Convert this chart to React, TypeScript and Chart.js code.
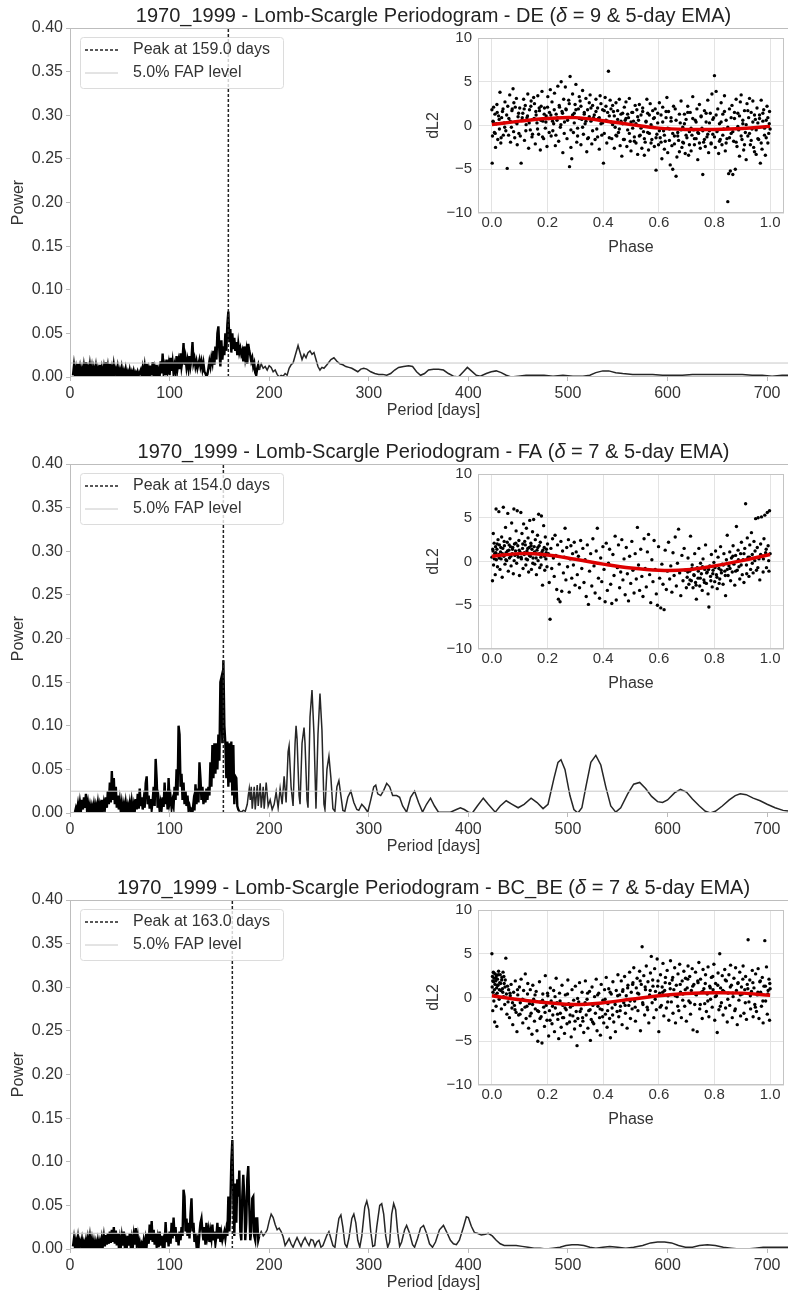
import React, { useEffect, useRef } from 'react';
import { Chart, registerables } from 'chart.js';
Chart.register(...registerables);

const FONT = "'Liberation Sans', Arial, Helvetica, sans-serif";
Chart.defaults.font.family = FONT;

// ---------- labels ----------
const STATIONS = ['DE', 'FA', 'BC_BE'];
const DELTAS = [9, 7, 7];
const PEAK_PERIODS = [159.0, 154.0, 163.0];
const FAP_LEVELS = [0.016, 0.025, 0.018];
const DENSE_LIMITS = [190, 170, 190];
const X_TICK_STEP = 100;
const Y_TICK_STEP = 0.05;
const PHASE_TICK_STEP = 0.2;
const DL2_TICK_STEP = 5;

// ---------- periodograms: [period days, power] ----------
const DE_PGRAM: [number, number][] = [
[3,0.002],[4,0.013],[5,0.003],[6,0.010],[7,0.001],[8,0.015],[9,0.004],[10,0.011],[11,0.002],[12,0.009],[13,0.001],[14,0.012],[15,0.003],[16,0.017],[17,0.004],[18,0.010],[19,0.002],[20,0.013],[21,0.003],[22,0.011],[23,0.001],[24,0.010],[25,0.004],[26,0.012],[27,0.002],[28,0.009],[29,0.003],[30,0.014],[31,0.001],[32,0.010],[33,0.003],[34,0.011],[35,0.002],[36,0.017],[37,0.004],[38,0.012],[39,0.002],[40,0.015],[41,0.003],[42,0.010],[43,0.001],[44,0.013],[45,0.004],[46,0.009],[47,0.002],[48,0.011],[49,0.003],[50,0.008],[51,0.001],[52,0.010],[53,0.002],[54,0.007],[55,0.001],[56,0.009],[57,0.002],[58,0.006],[59,0.001],[60,0.008],[61,0.002],[62,0.006],[63,0.001],[64,0.007],[65,0.002],[66,0.005],[67,0.001],[68,0.006],[69,0.002],[70,0.005],
[71,0.008],[72,0.001],[73,0.010],[74,0.002],[75,0.012],[76,0.001],[77,0.015],[78,0.003],[79,0.009],[80,0.001],[81,0.013],[82,0.002],[83,0.017],[84,0.004],[85,0.010],[86,0.001],[87,0.014],[88,0.003],[89,0.008],[90,0.001],[91,0.018],[92,0.004],[93,0.027],[94,0.006],[95,0.012],[96,0.002],[97,0.020],[98,0.008],[99,0.015],[100,0.002],[101,0.022],[102,0.007],[103,0.017],[104,0.004],[105,0.013],[106,0.006],[107,0.024],[108,0.010],[109,0.018],[110,0.009],[111,0.027],[112,0.012],[113,0.020],[114,0.039],[115,0.014],[116,0.022],[117,0.011],[118,0.019],[119,0.010],[120,0.024],[121,0.013],[122,0.021],[123,0.040],[124,0.016],[125,0.021],[126,0.012],[127,0.018],[128,0.010],[129,0.015],[130,0.020],[131,0.012],[132,0.018],[133,0.009],[134,0.016],[135,0.006],[136,0.004],[137,0.001],[138,0.003],[139,0.010],[140,0.018],[141,0.012],[142,0.022],[143,0.016],[144,0.030],[145,0.014],[146,0.035],[147,0.020],[148,0.050],[149,0.058],[150,0.030],[151,0.012],[152,0.042],[153,0.020],[154,0.035],[155,0.025],[156,0.050],[157,0.030],[158,0.060],[159,0.075],[160,0.040],[161,0.055],[162,0.028],[163,0.050],[164,0.032],[165,0.045],[166,0.030],[167,0.040],[168,0.025],[169,0.038],[170,0.028],[171,0.033],[172,0.026],[173,0.030],[174,0.018],[175,0.035],[176,0.022],[177,0.030],[178,0.015],[179,0.038],[180,0.030],[181,0.025],[182,0.018],[183,0.022],[184,0.012],[185,0.016],[186,0.005],[187,0.002],[188,0.010],[189,0.014],[190,0.008],
[192,0.015],[194,0.010],[196,0.012],[198,0.008],[200,0.013],[202,0.011],[204,0.006],[206,0.008],[208,0.003],[210,0.000],[212,0.002],[214,0.001],[216,0.004],[218,0.002],[220,0.010],[222,0.014],[224,0.016],[226,0.024],[228,0.032],[229,0.036],[231,0.028],[233,0.020],[235,0.026],[237,0.022],[239,0.028],[241,0.030],[243,0.026],[245,0.028],[247,0.020],[249,0.012],[251,0.008],[253,0.011],[255,0.010],[258,0.014],[262,0.020],[265,0.022],[268,0.018],[271,0.015],[274,0.014],[277,0.012],[280,0.011],[283,0.010],[286,0.008],[289,0.006],[292,0.009],[295,0.010],[298,0.009],[302,0.006],[306,0.004],[310,0.003],[314,0.003],[318,0.002],[322,0.004],[326,0.008],[330,0.011],[335,0.012],[340,0.013],[344,0.012],[348,0.006],[352,0.002],[356,0.004],[360,0.008],[365,0.009],[370,0.009],[375,0.008],[380,0.004],[385,0.001],[390,0.000],[395,0.006],[399,0.011],[403,0.007],[408,0.002],[412,0.001],[418,0.004],[423,0.006],[428,0.007],[433,0.005],[438,0.002],[443,0.000],[450,0.001],[458,0.002],[467,0.002],[476,0.002],[485,0.001],[495,0.002],[505,0.001],[515,0.001],[522,0.002],[528,0.005],[535,0.007],[541,0.007],[548,0.005],[555,0.004],[565,0.003],[575,0.003],[585,0.003],[595,0.002],[605,0.002],[615,0.002],[625,0.003],[635,0.003],[645,0.003],[655,0.003],[665,0.003],[675,0.003],[685,0.002],[695,0.002],[705,0.001],[715,0.002],[725,0.002],[730,0.002]
];

const FA_PGRAM: [number, number][] = [
[5,0.001],[6,0.006],[7,0.002],[8,0.010],[9,0.001],[10,0.012],[11,0.003],[12,0.015],[13,0.004],[14,0.018],[15,0.006],[16,0.022],[17,0.005],[18,0.012],[19,0.002],[20,0.009],[21,0.001],[22,0.008],[23,0.002],[24,0.010],[25,0.001],[26,0.009],[27,0.003],[28,0.012],[29,0.002],[30,0.010],[31,0.004],[32,0.015],[33,0.003],[34,0.012],[35,0.005],[36,0.018],[37,0.006],[38,0.025],[39,0.010],[40,0.035],[41,0.012],[42,0.048],[43,0.015],[44,0.040],[45,0.010],[46,0.030],[47,0.006],[48,0.020],[49,0.004],[50,0.014],[51,0.002],[52,0.012],[53,0.003],[54,0.010],[55,0.001],[56,0.012],[57,0.003],[58,0.009],[59,0.002],[60,0.011],[61,0.001],[62,0.013],[63,0.003],[64,0.010],[65,0.002],[66,0.016],[67,0.004],[68,0.022],[69,0.005],[70,0.028],[71,0.008],[72,0.018],[73,0.004],[74,0.015],[75,0.006],[76,0.034],[77,0.042],[78,0.010],[79,0.020],[80,0.005],[81,0.016],[82,0.004],[83,0.014],[84,0.030],[85,0.008],[86,0.062],[87,0.040],[88,0.006],[89,0.015],[90,0.003],[91,0.012],[92,0.005],[93,0.018],[94,0.007],[95,0.035],[96,0.010],[97,0.025],[98,0.004],[99,0.040],[100,0.012],[101,0.018],[102,0.006],[103,0.014],[104,0.008],[105,0.030],[106,0.015],[107,0.050],[108,0.020],[109,0.100],[110,0.090],[111,0.030],[112,0.045],[113,0.015],[114,0.035],[115,0.010],[116,0.025],[117,0.008],[118,0.020],[119,0.004],[120,0.008],[121,0.002],[122,0.004],[123,0.001],[124,0.012],[125,0.003],[126,0.033],[127,0.010],[128,0.028],[129,0.012],[130,0.058],[131,0.040],[132,0.015],[133,0.030],[134,0.010],[135,0.025],[136,0.012],[137,0.028],[138,0.015],[139,0.030],[140,0.020],[141,0.058],[142,0.030],[143,0.078],[144,0.040],[145,0.080],[146,0.045],[147,0.080],[148,0.050],[149,0.090],[150,0.060],[151,0.150],[152,0.155],[153,0.080],[154,0.175],[155,0.100],[156,0.080],[157,0.040],[158,0.082],[159,0.030],[160,0.080],[161,0.035],[162,0.082],[163,0.020],[164,0.078],[165,0.010],[166,0.042],[167,0.040],[168,0.008],[169,0.004],[170,0.002],[172,0.001],[174,0.003],[176,0.002],[178,0.010],[179,0.020],[180,0.028],[181,0.015],[182,0.030],[183,0.005],[185,0.030],[186,0.004],[188,0.032],[189,0.008],[191,0.034],[192,0.006],[194,0.030],[195,0.005],[197,0.035],[199,0.008],[201,0.015],[203,0.004],[205,0.010],[207,0.024],[209,0.006],[211,0.028],[213,0.010],[215,0.042],[217,0.012],[219,0.070],[220,0.077],[222,0.030],[224,0.008],[226,0.080],[227,0.100],[228,0.085],[230,0.020],[231,0.010],[233,0.080],[235,0.098],[236,0.080],[238,0.015],[239,0.006],[241,0.110],[243,0.141],[245,0.090],[247,0.005],[249,0.090],[251,0.137],[253,0.095],[255,0.010],[256,0.004],[258,0.050],[260,0.065],[262,0.040],[264,0.005],[266,0.002],[268,0.030],[270,0.037],[272,0.020],[274,0.003],[276,0.002],[279,0.018],[282,0.025],[285,0.012],[288,0.004],[290,0.003],[293,0.010],[296,0.006],[299,0.001],[302,0.015],[305,0.030],[307,0.032],[309,0.022],[312,0.020],[315,0.026],[318,0.034],[321,0.030],[324,0.020],[328,0.020],[331,0.018],[334,0.008],[338,0.001],[342,0.018],[346,0.025],[350,0.012],[354,0.001],[358,0.010],[362,0.017],[366,0.008],[370,0.001],[376,0.001],[382,0.001],[388,0.004],[392,0.006],[396,0.004],[400,0.001],[404,0.000],[409,0.008],[415,0.017],[420,0.010],[427,0.001],[432,0.008],[438,0.014],[444,0.010],[450,0.006],[456,0.010],[463,0.017],[469,0.012],[475,0.005],[480,0.010],[486,0.040],[490,0.058],[493,0.061],[497,0.050],[502,0.020],[506,0.004],[510,0.000],[514,0.006],[518,0.030],[523,0.058],[528,0.066],[533,0.055],[538,0.030],[543,0.008],[548,0.001],[553,0.006],[560,0.022],[566,0.033],[572,0.035],[578,0.028],[584,0.019],[590,0.013],[595,0.012],[600,0.015],[607,0.023],[613,0.027],[619,0.024],[625,0.016],[632,0.008],[638,0.002],[643,0.000],[648,0.002],[655,0.008],[662,0.015],[668,0.020],[673,0.022],[679,0.021],[686,0.017],[693,0.014],[700,0.010],[708,0.006],[716,0.003],[724,0.002],[730,0.001]
];

const BCBE_PGRAM: [number, number][] = [
[3,0.003],[4,0.012],[5,0.002],[6,0.010],[7,0.004],[8,0.013],[9,0.002],[10,0.009],[11,0.004],[12,0.011],[13,0.002],[14,0.008],[15,0.003],[16,0.010],[17,0.002],[18,0.012],[19,0.004],[20,0.014],[21,0.003],[22,0.011],[23,0.002],[24,0.009],[25,0.001],[26,0.008],[27,0.002],[28,0.010],[29,0.003],[30,0.009],[31,0.002],[32,0.012],[33,0.004],[34,0.014],[35,0.003],[36,0.016],[37,0.005],[38,0.018],[39,0.006],[40,0.020],[41,0.007],[42,0.022],[43,0.008],[44,0.025],[45,0.006],[46,0.021],[47,0.004],[48,0.018],[49,0.003],[50,0.012],[51,0.002],[52,0.014],[53,0.004],[54,0.020],[55,0.003],[56,0.010],[57,0.002],[58,0.015],[59,0.004],[60,0.018],[61,0.003],[62,0.012],[63,0.002],[64,0.015],[65,0.005],[66,0.024],[67,0.006],[68,0.014],[69,0.002],[70,0.008],[71,0.001],[72,0.006],[73,0.002],[74,0.010],[75,0.003],[76,0.012],[77,0.004],[78,0.018],[79,0.006],[80,0.028],[81,0.010],[82,0.032],[83,0.008],[84,0.022],[85,0.005],[86,0.018],[87,0.003],[88,0.012],[89,0.002],[90,0.020],[91,0.004],[92,0.015],[93,0.002],[94,0.010],[95,0.004],[96,0.031],[97,0.008],[98,0.018],[99,0.003],[100,0.020],[101,0.006],[102,0.030],[103,0.012],[104,0.036],[105,0.015],[106,0.025],[107,0.008],[108,0.018],[109,0.004],[110,0.020],[111,0.010],[112,0.025],[113,0.015],[114,0.068],[115,0.060],[116,0.020],[117,0.035],[118,0.015],[119,0.030],[120,0.012],[121,0.040],[122,0.058],[123,0.020],[124,0.030],[125,0.008],[126,0.018],[127,0.004],[128,0.010],[129,0.002],[130,0.018],[131,0.030],[132,0.035],[133,0.020],[134,0.010],[135,0.025],[136,0.005],[137,0.030],[138,0.015],[139,0.022],[140,0.008],[141,0.020],[142,0.012],[143,0.028],[144,0.010],[145,0.020],[146,0.006],[147,0.015],[148,0.030],[149,0.012],[150,0.025],[151,0.008],[152,0.018],[153,0.010],[154,0.015],[155,0.020],[156,0.012],[157,0.022],[158,0.015],[159,0.060],[160,0.020],[161,0.050],[162,0.100],[163,0.125],[164,0.060],[165,0.015],[166,0.075],[167,0.030],[168,0.080],[169,0.060],[170,0.090],[171,0.020],[172,0.010],[173,0.060],[174,0.085],[175,0.060],[176,0.010],[177,0.030],[178,0.080],[179,0.095],[180,0.050],[181,0.010],[182,0.020],[183,0.058],[184,0.060],[185,0.015],[186,0.010],[187,0.035],[188,0.035],[189,0.010],[190,0.015],[192,0.020],[194,0.015],[196,0.018],[198,0.022],[200,0.032],[202,0.040],[204,0.036],[206,0.028],[208,0.022],[210,0.024],[212,0.020],[214,0.014],[216,0.004],[218,0.008],[220,0.012],[222,0.006],[224,0.002],[226,0.008],[228,0.013],[230,0.008],[232,0.003],[234,0.009],[236,0.013],[238,0.008],[240,0.004],[242,0.011],[244,0.010],[246,0.003],[248,0.008],[250,0.010],[252,0.002],[254,0.004],[256,0.010],[258,0.016],[260,0.020],[262,0.012],[264,0.004],[266,0.002],[268,0.020],[270,0.035],[272,0.039],[274,0.025],[276,0.006],[278,0.002],[280,0.012],[283,0.035],[285,0.040],[287,0.030],[289,0.010],[291,0.002],[293,0.015],[296,0.048],[298,0.055],[300,0.045],[302,0.020],[304,0.003],[306,0.004],[308,0.025],[311,0.050],[313,0.052],[315,0.040],[317,0.015],[319,0.002],[321,0.008],[323,0.040],[325,0.052],[327,0.045],[329,0.020],[331,0.003],[333,0.008],[336,0.022],[338,0.027],[341,0.018],[344,0.005],[346,0.002],[349,0.012],[352,0.024],[355,0.027],[358,0.018],[361,0.006],[364,0.002],[367,0.008],[371,0.022],[375,0.027],[378,0.020],[382,0.010],[385,0.006],[388,0.005],[391,0.010],[395,0.025],[398,0.037],[400,0.036],[403,0.026],[406,0.019],[409,0.018],[413,0.016],[417,0.017],[420,0.018],[424,0.015],[428,0.010],[432,0.006],[436,0.004],[442,0.004],[448,0.004],[454,0.003],[460,0.002],[466,0.001],[472,0.001],[478,0.000],[485,0.001],[492,0.002],[498,0.004],[504,0.005],[510,0.005],[516,0.004],[522,0.002],[528,0.001],[535,0.002],[542,0.003],[550,0.002],[558,0.001],[566,0.002],[575,0.004],[583,0.007],[590,0.008],[597,0.008],[604,0.007],[611,0.004],[618,0.002],[625,0.002],[632,0.004],[640,0.005],[648,0.004],[656,0.002],[664,0.001],[672,0.000],[680,0.000],[688,0.001],[696,0.002],[704,0.002],[712,0.002],[720,0.002],[730,0.002]
];

// ---------- phase-folded points: [phase, dL2] ----------
const DE_POINTS: [number, number][] = [
[0,1.8],[.002,-1.2],[.004,.5],[.001,-4.3],[.006,2.1],[.009,-.8],[.011,1.3],[.013,-2.5],[.016,.2],[.018,2.4],[.021,-1.6],[.024,1.1],[.027,-.4],[.029,3.8],[.032,-2],[.035,.9],[.038,1.6],[.041,-1.1],[.044,.3],[.047,2.7],[.05,-.6],[.055,-4.9],[.057,2.2],[.061,.8],[.064,3.5],[.067,-1.9],[.07,-.2],[.073,1.9],[.076,4.2],[.079,2.6],[.082,-1.4],[.085,.4],[.088,3.1],[.091,-2.2],[.094,1],[.097,-.9],[.1,2],[.105,-4.3],[.108,.6],[.111,1.4],[.114,3],[.117,-1.7],[.12,2.3],[.123,.1],[.126,.9],[.129,3.6],[.132,-2.6],[.135,1.8],[.138,-.5],[.141,2.8],[.144,-1.3],[.147,.7],[.15,3.2],[.153,2.5],[.156,-2.1],[.159,1.2],[.162,.3],[.165,3.4],[.168,-1],[.171,1.7],[.174,-2.8],[.177,2.2],[.18,3.9],[.183,.5],[.186,-1.5],[.189,2],[.192,-.3],[.195,1.1],[.198,-2.4],[.201,3.3],[.204,.8],[.207,1.5],[.21,4.1],[.213,-1.2],[.216,2.7],[.219,-.6],[.222,.2],[.225,3.7],[.228,-2.3],[.231,1.3],[.234,.6],[.237,4.5],[.24,-1.8],[.243,2.1],[.246,-.2],[.249,5],[.252,1.6],[.255,-3.1],[.258,3],[.261,.4],[.264,4.4],[.267,1.8],[.27,-1.5],[.273,.9],[.276,2.9],[.279,-4.7],[.281,5.6],[.284,-2.5],[.287,-3.8],[.29,3.6],[.293,-.8],[.296,1.4],[.299,2.4],[.302,4.7],[.305,-1.9],[.308,-.3],[.311,1.9],[.314,3.3],[.317,2.8],[.32,-2.2],[.323,.7],[.326,4],[.329,-1],[.332,1.5],[.335,.2],[.338,3.1],[.341,-3],[.344,1.8],[.347,-1.4],[.35,2.6],[.353,3.5],[.356,.5],[.359,-2.1],[.362,2.3],[.365,.9],[.368,1.2],[.371,-1.6],[.374,3],[.377,-.4],[.38,2],[.383,.8],[.386,-2.7],[.389,3.4],[.392,2.5],[.395,-1.1],[.398,.3],[.401,-4.3],[.404,1.7],[.407,3.2],[.41,2.2],[.413,-2],[.416,.5],[.419,6.2],[.422,1.1],[.425,2.9],[.428,.4],[.431,-1.5],[.434,2.3],[.437,1.6],[.44,-2.6],[.443,-.2],[.446,2.6],[.449,-1.2],[.452,.7],[.455,-.8],[.458,3],[.461,-2.3],[.464,1.3],[.467,-3.5],[.47,.2],[.473,-1.6],[.476,2.1],[.479,.6],[.482,2.7],[.485,-2.4],[.488,-.5],[.491,.9],[.494,3.1],[.497,-1.8],[.5,-2.9],[.503,1.5],[.506,-.3],[.509,.5],[.512,-1.3],[.515,2.3],[.518,-2],[.521,1.8],[.524,-3.3],[.527,.6],[.53,2.4],[.533,-1.1],[.536,1.2],[.539,-2.6],[.542,2],[.545,-.7],[.548,-3.4],[.551,-1.9],[.554,.4],[.557,3],[.56,1.4],[.563,-2.8],[.566,-.9],[.569,2.5],[.572,.1],[.575,-1.6],[.578,1.7],[.581,.8],[.584,-2.4],[.587,1.9],[.59,-5.1],[.593,-1],[.596,.3],[.599,-2.2],[.602,2.6],[.605,-1.4],[.608,1.2],[.611,-3.8],[.614,2.1],[.617,-.6],[.62,-2.7],[.623,-1.8],[.626,.9],[.629,3.2],[.632,-3.1],[.635,1.6],[.638,-.4],[.641,-4.5],[.644,.5],[.647,-2.3],[.65,-5],[.653,2.2],[.656,-1.2],[.659,1.9],[.662,-5.8],[.665,-3.6],[.668,-.8],[.671,-1.7],[.674,-3],[.677,.3],[.68,2.8],[.683,-2.5],[.686,-.2],[.689,-2],[.692,1.3],[.695,-3.2],[.698,.7],[.701,-1.4],[.704,2.2],[.707,-3.4],[.71,-.7],[.713,1.5],[.716,-2.9],[.719,-1.1],[.722,3.3],[.725,-.5],[.728,-2.2],[.731,.6],[.734,-1.5],[.737,1.9],[.74,-3.9],[.743,-.9],[.746,2.4],[.749,-2.6],[.752,1.1],[.755,-.3],[.758,-5.6],[.761,-1.9],[.764,1.7],[.767,-2.4],[.77,.4],[.773,-1.3],[.776,2.9],[.779,-3.1],[.782,-.6],[.785,1.4],[.788,-2],[.791,3.6],[.794,-1],[.797,.9],[.8,5.7],[.803,-2.5],[.806,3.9],[.809,-.7],[.812,1.9],[.815,-3.2],[.818,.2],[.821,-1.6],[.824,2.6],[.827,-2.2],[.83,1.3],[.833,-.4],[.836,3.4],[.839,-2.9],[.842,.6],[.845,-1.5],[.848,-8.7],[.851,-5.5],[.854,1.9],[.857,-5.2],[.86,-.9],[.863,2.3],[.866,-5.6],[.869,-1.8],[.872,.8],[.875,-5],[.878,3],[.881,-2.4],[.884,1.4],[.887,-.5],[.89,-3.5],[.893,2.7],[.896,3.5],[.899,-1.6],[.902,.2],[.905,-2.8],[.908,1.7],[.911,-.8],[.914,-3.9],[.917,2.5],[.92,-1.2],[.923,.9],[.926,3.1],[.929,-2.2],[.932,1.5],[.935,-.4],[.938,2.8],[.941,-2.5],[.944,-3],[.947,.7],[.95,-3.3],[.953,2],[.956,.3],[.959,-1.6],[.962,1.2],[.965,-4.3],[.968,2.9],[.971,-2.7],[.974,.5],[.977,1.8],[.98,-1.1],[.983,-3.4],[.986,.6],[.989,2.2],[.992,-2],[.995,-.9],[.998,1.6],[1,-.4]
];
const DE_POINTS_CORE: [number, number][] = [
[.005,.4],[.012,-.9],[.019,1.5],[.026,.7],[.033,-1.4],[.04,1.9],[.046,-.2],[.053,1.2],[.06,-1.1],[.066,.5],[.072,1.7],[.078,-.7],[.084,2.1],[.09,.2],[.096,1.4],[.102,-1.2],[.109,.9],[.116,1.9],[.122,-.6],[.128,1.1],[.134,.3],[.14,2.2],[.146,-1],[.152,.8],[.158,1.6],[.164,-.4],[.17,2],[.176,.6],[.182,-1.3],[.188,1.3],[.194,.4],[.2,2.1],[.206,-.8],[.212,1.2],[.218,.5],[.224,1.8],[.23,-1.1],[.236,.9],[.242,2.3],[.248,.1],[.254,1.4],[.26,-.9],[.266,1.9],[.272,.6],[.278,2.5],[.284,-.5],[.29,1.2],[.296,.3],[.302,1.8],[.308,-1.2],[.314,.8],[.32,2.2],[.326,-.2],[.332,1.3],[.338,.5],[.344,-1.5],[.35,1],[.356,2],[.362,-.6],[.368,.7],[.374,1.6],[.38,-1.3],[.386,.9],[.392,.2],[.398,1.8],[.404,-.9],[.41,.6],[.416,1.5],[.422,-1.4],[.428,1.9],[.434,.1],[.44,1.1],[.446,-1.1],[.452,1.7],[.458,-.4],[.464,.5],[.47,1.4],[.476,-1.6],[.482,.8],[.488,1.3],[.494,-.9],[.5,.4],[.506,1.5],[.512,-1.8],[.518,.2],[.524,1],[.53,-1.2],[.536,-.3],[.542,1.6],[.548,-1.5],[.554,.5],[.56,-.8],[.566,1.2],[.572,-2],[.578,-.2],[.584,.9],[.59,-1.4],[.596,1.4],[.602,-.6],[.608,-1.9],[.614,.4],[.62,-1.1],[.626,1.6],[.632,-.3],[.638,-1.7],[.644,.9],[.65,-.9],[.656,-2.1],[.662,.6],[.668,-1.2],[.674,1.3],[.68,-.5],[.686,-1.9],[.692,.2],[.698,-1.1],[.704,1.5],[.71,-2.2],[.716,-.3],[.722,.8],[.728,-1.5],[.734,.4],[.74,-.8],[.746,-2],[.752,1],[.758,-.6],[.764,-1.6],[.77,1.4],[.776,-1],[.782,.3],[.788,-2.1],[.794,.7],[.8,-1.3],[.806,1.2],[.812,-.5],[.818,-1.8],[.824,.4],[.83,-1.1],[.836,1.6],[.842,-2],[.848,-.2],[.854,-1.4],[.86,.9],[.866,-.7],[.872,1.5],[.878,-1.9],[.884,-.1],[.89,1.1],[.896,-1.2],[.902,.6],[.908,-2.2],[.914,.1],[.92,1.7],[.926,-.9],[.932,-1.7],[.938,.4],[.944,1.2],[.95,-.5],[.956,-1.5],[.962,.8],[.968,-2],[.974,1.4],[.98,-.3],[.986,-1.4],[.992,.9],[.997,.2]
];

const FA_POINTS: [number, number][] = [
[0,.5],[.002,-2.2],[.004,1.2],[.005,3.2],[.006,-.4],[.008,2.1],[.01,.9],[.012,-1.5],[.013,1.7],[.015,6],[.016,.2],[.018,1.4],[.02,-.6],[.022,2.5],[.024,.8],[.025,5.7],[.027,1.9],[.029,-.9],[.031,1.1],[.033,.3],[.035,2.8],[.037,-1.8],[.039,1.5],[.041,6.2],[.043,.6],[.045,1.8],[.047,-.3],[.049,3.9],[.051,1],[.053,.1],[.055,2.2],[.057,5.5],[.059,-1.1],[.061,1.3],[.063,.4],[.065,2.6],[.067,1.7],[.069,-.5],[.071,4.4],[.073,.9],[.075,1.6],[.077,-1.4],[.079,6],[.081,2],[.083,.7],[.085,1.2],[.087,3.5],[.089,-.2],[.091,5.8],[.093,1.8],[.095,.5],[.097,2.4],[.099,-1.6],[.101,1.1],[.104,5.6],[.106,.3],[.108,3.2],[.11,1.5],[.112,-.8],[.114,4.3],[.116,.8],[.118,2.3],[.12,1.9],[.122,-.4],[.124,3.8],[.126,1.2],[.128,.2],[.13,2.7],[.132,-1.2],[.134,1.6],[.136,4.7],[.138,.6],[.14,2.1],[.142,-.9],[.144,1.4],[.146,3.4],[.148,.4],[.15,4.8],[.152,1.7],[.154,-.3],[.156,2.5],[.158,.9],[.16,-1.5],[.162,1.3],[.164,3],[.166,.1],[.168,5.4],[.17,1.8],[.172,-.7],[.174,2.2],[.176,.5],[.178,5.2],[.18,1.1],[.182,-2.7],[.184,.8],[.186,4.1],[.188,1.6],[.19,-1],[.192,2.8],[.194,.3],[.196,1.4],[.198,-.6],[.2,2],
[.203,.9],[.206,-2.4],[.209,-6.6],[.212,1.5],[.215,-.8],[.218,2.6],[.221,.4],[.224,-1.7],[.227,3],[.23,.7],[.233,-3.2],[.236,1.9],[.239,-4.3],[.242,-.3],[.245,-4.6],[.248,2.3],[.251,-3.4],[.254,1.2],[.257,-1.3],[.26,.5],[.263,3.8],[.266,-2.1],[.269,1.6],[.272,-.6],[.275,2.5],[.278,-3.5],[.281,.3],[.284,1.8],[.287,-1.9],[.29,.9],[.293,-.4],[.296,2.2],[.299,-2.7],
[.303,1.1],[.307,-1.5],[.311,.6],[.315,-3],[.319,2.4],[.323,-.8],[.327,1.5],[.331,-2.4],[.335,.2],[.339,-4],[.343,1.9],[.347,-4.9],[.351,-1.1],[.355,.9],[.359,-2.8],[.363,2.6],[.367,-.5],[.371,-3.6],[.375,1.2],[.379,3.8],[.383,-1.9],[.387,-4.2],[.391,.4],[.395,-2.3],[.399,1.7],[.403,-.9],[.407,-4.6],[.411,2.1],[.415,-3.3],[.419,-.2],[.423,1.4],[.427,-2.6],[.431,-4.8],[.435,.8],[.439,-1.6],[.443,2.9],[.447,-4.4],[.451,-.7],[.455,1.9],[.459,-3],[.463,-1.2],[.467,2.5],[.471,-2.1],[.475,.3],[.479,-3.8],[.483,1.6],[.487,-1.4],[.491,-4.5],[.495,.6],[.499,-2.5],
[.503,2.3],[.507,-1],[.511,-3.6],[.515,.9],[.519,-2],[.523,3.9],[.527,-.4],[.531,-3.3],[.535,1.4],[.539,-1.7],[.543,-4],[.547,2.6],[.551,-.8],[.555,-2.9],[.559,1.1],[.563,3.1],[.567,-1.5],[.571,-4.7],[.575,.2],[.579,-2.3],[.583,2.4],[.587,-.9],[.591,-3.7],[.595,-5],[.599,1.7],[.603,-1.9],[.607,-5.3],[.611,-.3],[.615,-2.6],[.619,-5.5],[.623,1.3],[.627,-3.2],[.631,-1.1],[.635,2.2],[.639,-2],[.643,-.5],[.647,-3.5],[.651,1],[.655,-1.6],[.659,2.8],[.663,-2.8],[.667,-.2],[.671,3.7],[.675,-1.3],[.679,-3.9],[.683,.7],[.687,-2.2],[.691,1.5],[.695,-1],[.699,-3],
[.702,-1.8],[.705,.4],[.708,-2.6],[.711,-1.1],[.714,2.9],[.717,-2.2],[.72,-.4],[.723,-3],[.726,-1.5],[.729,.9],[.732,-2.4],[.735,-4.3],[.738,-.7],[.741,-1.9],[.744,1.5],[.747,-2.8],[.75,-.2],[.753,-1.4],[.756,-3.3],[.759,.3],[.762,-2.1],[.765,-.9],[.768,1.9],[.771,-2.5],[.774,-1.2],[.777,-3.7],[.78,-5.2],[.783,-.5],[.786,-1.7],[.789,.8],[.792,-2.9],[.795,-1],[.798,-.1],[.801,-2.3],[.804,1.2],[.807,-1.5],[.81,-3.1],[.813,.5],[.816,-.8],[.819,-2],[.822,1.7],[.825,-1.3],[.828,-.3],[.831,-2.6],[.834,.9],[.837,-1.1],[.84,-3.9],[.843,.2],[.846,3],[.849,-1.6],
[.852,-.5],[.855,1.1],[.858,-2.2],[.861,.4],[.864,-1.2],[.867,1.8],[.87,-.3],[.873,-2.7],[.876,.7],[.879,4],[.882,-1],[.885,1.3],[.888,-.6],[.891,-2],[.894,.9],[.897,2.2],[.9,-1.5],[.903,.2],[.906,-2.4],[.909,1.5],[.912,6.6],[.915,-.4],[.918,2.7],[.921,.5],[.924,-1.7],[.927,1.9],[.93,-.9],[.933,3.3],[.936,.8],[.939,-1.3],[.942,2.3],[.945,.1],[.948,4.9],[.951,-1],[.954,1.6],[.957,5],[.96,.3],[.963,-2.1],[.966,2],[.969,5.1],[.972,.6],[.975,-1.2],[.978,2.6],[.981,5.3],[.984,1],[.987,-.7],[.99,5.6],[.993,1.8],[.996,-1.1],[.998,5.8],[1,.9]
];
const FA_POINTS_CORE: [number, number][] = [
[.003,1.4],[.009,.3],[.014,1],[.019,2],[.026,.4],[.032,1.6],[.038,.9],[.044,2.3],[.05,.2],[.056,1.2],[.062,1.9],[.068,.6],[.074,1.4],[.08,.1],[.086,2.1],[.092,.8],[.098,1.3],[.105,.5],[.111,2],[.117,1],[.123,.3],[.129,1.5],[.135,.7],[.141,1.8],[.147,-.2],[.153,1.1],[.159,.4],[.165,1.6],[.171,.9],[.177,-.4],[.183,1.3],[.189,.6],[.195,1],
[.704,-1.2],[.712,-2.1],[.719,-.8],[.727,-1.6],[.734,-2.7],[.742,-1.1],[.749,-1.9],[.757,-.6],[.764,-2.4],[.772,-1.3],[.779,-.9],[.787,-2.2],[.794,-1.4],[.802,-.7],[.809,-1.8],[.817,-2.5],[.824,-1],[.832,-.4],[.839,-1.6],[.846,-.9],
[.856,-.8],[.866,.6],[.876,-1.1],[.886,.2],[.896,-.4],[.906,.9],[.916,-1.4],[.926,.5],[.936,-.2],[.946,1.2],[.956,-.7],[.966,.8],[.976,.3],[.986,1.4],[.995,.1]
];

const BCBE_POINTS: [number, number][] = [
[0,5],[.001,1.2],[.002,2.4],[.003,-1.5],[.004,.6],[.005,2.9],[.006,1.8],[.007,-.4],[.008,2.2],[.009,.9],[.01,-2.8],[.011,1.5],[.012,2.7],[.013,.3],[.014,1.9],[.015,-1],[.016,2.5],[.017,1.1],[.018,-3.3],[.019,.5],[.02,2.1],[.022,1.4],[.024,3],[.026,-.2],[.028,1.7],[.03,2.6],[.032,.8],[.034,-1.3],[.036,2.3],[.038,1],[.04,2.9],[.042,.1],[.044,1.6],[.046,-.8],[.048,2],[.05,4.5],[.052,.4],[.054,-1.9],[.056,1.3],[.058,-.5],[.06,.9],
[.063,-2.3],[.066,.2],[.069,1.5],[.072,-1.2],[.075,-3.1],[.078,.6],[.081,-.9],[.084,1.9],[.087,-1.7],[.09,-3.9],[.093,.3],[.096,-2],[.099,1.2],[.102,-.6],[.105,2.1],[.108,-1.4],[.111,-2.9],[.114,.8],[.117,-.3],[.12,2.7],[.123,-2.4],[.126,-1],[.129,1.6],[.132,-3.5],[.135,-.7],[.138,.9],[.141,-1.8],[.144,-4.2],[.147,1.4],[.15,-.2],[.153,-2.7],[.156,-1.3],[.159,.7],[.162,-3.8],[.165,-5],[.168,-1.6],[.171,1.8],[.174,-.5],[.177,-2.2],[.18,-5.2],[.183,.4],[.186,-1.1],[.189,-3.3],[.192,2.5],[.195,-.9],[.198,-2.6],[.201,.2],[.204,-4.4],[.207,-1.5],[.21,1.1],[.213,-.4],[.216,-3],[.219,-2],[.222,.8],[.225,-3.9],[.228,-1.2],[.231,2.2],[.234,-.6],[.237,-2.5],[.24,-4.7],[.243,.5],[.246,-1.8],[.249,-3.4],[.252,1.4],[.255,-.9],[.258,-2.3],[.261,-4.1],[.264,.3],[.267,-1.4],[.27,-3],[.273,2],[.276,-.7],[.279,-2.8],[.282,-1.1],[.285,-4.5],[.288,.9],[.291,-2.1],[.294,-.3],[.297,-3.6],[.3,1.3],[.303,-1.6],[.306,-5.5],[.309,-2.4],[.312,-.5],[.315,1.7],[.318,-3.2],[.321,-1.3],[.324,.6],[.327,-2.7],[.33,-4],[.333,-.8],[.336,1.9],[.339,-2],[.342,-.2],[.345,-3.5],[.348,-1.5],[.351,.7],[.354,-4.9],[.357,-2.5],[.36,1.2],[.363,-.9],[.366,-3],[.369,.1],[.372,-1.8],[.375,2.1],[.378,-3.8],[.381,-1],[.384,.5],[.387,-2.3],[.39,-4.3],[.393,1.5],[.396,-1.4],[.399,-.3],[.402,-2.9],[.405,.9],[.408,-1.9],[.411,2.3],[.414,-3.4],[.417,-.7],[.42,1],[.423,-2.4],[.426,-4.6],[.429,.4],[.432,-1.2],[.435,1.8],[.438,-2.8],[.441,-.5],[.444,-3.9],[.447,.8],[.45,-1.6],
[.453,2.6],[.456,-2.2],[.459,.3],[.462,-1],[.465,1.9],[.468,-3.1],[.471,.9],[.474,-.6],[.477,2.4],[.48,-1.8],[.483,.2],[.486,-3.5],[.489,1.4],[.492,-.9],[.495,2.9],[.498,-2.4],[.501,.6],[.504,-1.3],[.507,1.7],[.51,3.4],[.513,-.4],[.516,-2.7],[.519,1.1],[.522,2.2],[.525,-1.5],[.528,.4],[.531,3],[.534,-3.8],[.537,1.5],[.54,5.8],[.543,-.8],[.546,2.5],[.549,-2],[.552,.9],[.555,3.6],[.558,-1.1],[.561,1.8],[.564,-2.9],[.567,.3],[.57,2.8],[.573,4.7],[.576,-.6],[.579,1.3],[.582,-2.3],[.585,3.3],[.588,.7],[.591,-1.4],[.594,4.4],[.597,1.9],[.6,-3.9],[.603,.5],[.606,2.6],[.609,-.9],[.612,1.2],[.615,3.9],[.618,-2.1],[.621,.8],[.624,2.3],[.627,-1.2],[.63,3.1],[.633,.2],[.636,-2.6],[.639,1.6],[.642,4.2],[.645,-.5],[.648,2],[.651,-1.8],[.654,.9],[.657,3.4],[.66,-2.9],[.663,1.4],[.666,.1],[.669,2.7],[.672,-1.5],[.675,3.8],[.678,.6],[.681,-2.3],[.684,1.9],[.687,.4],[.69,3],[.693,-1],[.696,2.2],[.699,-2.7],[.702,1.1],[.705,3.6],[.708,-.4],[.711,2.4],[.714,-1.9],[.717,.8],[.72,3.3],[.723,-3.7],[.726,1.5],[.729,-.8],[.732,2.9],[.735,.3],[.738,-3.9],[.741,1.7],[.744,4],[.747,-1.3],[.75,2.1],[.753,.6],[.756,-2.4],[.759,3.2],[.762,1],[.765,-.7],[.768,2.6],[.771,-1.6],[.774,.4],[.777,3.5],[.78,-2.2],[.783,1.3],[.786,-.2],[.789,2.3],[.792,-1.1],[.795,.9],[.798,3.8],[.801,-2.6],[.804,1.6],[.807,.2],[.81,-4],[.813,2.8],[.816,-1.4],[.819,5],[.822,1.1],[.825,-.6],[.828,2.5],[.831,-2],[.834,.7],[.837,3.2],[.84,-1.2],[.843,1.9],[.846,-2.8],[.849,.5],[.852,2.6],[.855,-.9],[.858,3.7],[.861,1.4],[.864,-2.3],[.867,.1],[.87,2.2],[.873,-1.5],[.876,3.4],[.879,.8],[.882,-3.1],[.885,1.7],[.888,-.3],[.891,2.9],[.894,-2.1],[.897,1.2],[.9,.4],[.903,3.6],[.906,-1.8],[.909,.9],[.912,2.4],[.915,-2.5],[.918,1.5],[.921,6.6],[.924,-.5],[.927,2],[.93,-1.3],[.933,.7],[.936,3.1],[.939,-2.2],[.942,1.1],[.945,-.8],[.948,2.7],[.951,-1.6],[.954,.3],[.957,3.3],[.96,-2.4],[.963,1.8],[.966,.6],[.969,-1],[.972,2.3],[.975,-2.9],[.978,1.3],[.981,6.5],[.984,-.4],[.987,3.5],[.99,-1.9],[.993,.8],[.996,2.1],[.998,-2.6],[1,1]
];
const BCBE_POINTS_CORE: [number, number][] = [
[.003,1.9],[.007,2.8],[.011,.2],[.015,2.2],[.019,1.4],[.023,2.6],[.027,.9],[.031,1.6],[.035,2],[.039,.6],[.043,2.4],[.047,1.2],
[.065,.5],[.074,-.6],[.083,-1.4],[.092,.9],[.101,-1.9],[.11,-.2],[.119,-1.1],[.128,.4],[.137,-2.1],[.146,-.8],[.155,.3],[.164,-1.5],[.173,-2.4],[.182,-.3],[.191,-1.7],[.2,.5],[.209,-2.6],[.218,-1],[.227,.1],[.236,-1.9],[.245,-.4],[.254,-2.3],[.263,-1.2],[.272,.4],[.281,-2],[.29,-.9],[.299,-2.7],[.308,-.1],[.317,-1.6],[.326,-2.3],[.335,-.6],[.344,.5],[.353,-1.4],[.362,-2.8],[.371,-.7],[.38,.3],[.389,-1.3],[.398,-2.2],[.407,-.2],[.416,-1.5],[.425,.6],[.434,-2],[.443,-.8],[.452,.2],[.461,-1.5],[.47,.7],[.479,-.9],[.488,1.1],[.497,-.4],[.506,1.5],[.515,-1.1],[.524,.5],[.533,1.9],[.542,-.6],[.551,1.2],[.56,-1.4],[.569,.8],[.578,2],[.587,-.2],[.596,1.3],[.605,-1.1],[.614,.6],[.623,1.7],[.632,-.5],[.641,1],[.65,2.3],[.659,.2],[.668,-1],[.677,1.5],[.686,-.3],[.695,.9],[.704,2.1],[.713,-.6],[.722,1.3],[.731,.4],[.74,1.9],[.749,-.8],[.758,.7],[.767,1.6],[.776,-.4],[.785,1.1],[.794,2.4],[.803,.1],[.812,1.4],[.821,-1],[.83,.8],[.839,2],[.848,-.2],[.857,1.2],[.866,.5],[.875,-1.3],[.884,1.6],[.893,.3],[.902,2.1],[.911,-.6],[.92,1],[.929,.2],[.938,1.7],[.947,-1.1],[.956,.6],[.965,1.9],[.974,-.4],[.983,1.3],[.992,.4],[.999,1.6]
];

// ---------- fitted sinusoid (red) ----------
const FIT_PHASE = [0, 0.1, 0.2, 0.3, 0.4, 0.5, 0.6, 0.7, 0.8, 0.9, 1.0];
const DE_FIT = [0.1, 0.5, 0.8, 0.9, 0.55, 0.1, -0.3, -0.45, -0.45, -0.35, -0.1];
const FA_FIT = [0.6, 0.9, 0.75, 0.25, -0.3, -0.75, -1.0, -0.95, -0.5, 0.1, 0.8];
const BCBE_FIT = [0.2, -0.25, -0.6, -0.8, -0.6, -0.2, 0.2, 0.45, 0.55, 0.5, 0.25];

const PGRAMS = [DE_PGRAM, FA_PGRAM, BCBE_PGRAM];
const POINTS = [DE_POINTS.concat(DE_POINTS_CORE), FA_POINTS.concat(FA_POINTS_CORE), BCBE_POINTS.concat(BCBE_POINTS_CORE)];
const FITS = [DE_FIT, FA_FIT, BCBE_FIT];

const PANEL_H = 436;
const TEXT = '#333';

function framePlugin(color: string) {
  return {
    id: 'frame',
    beforeDraw(chart: any) {
      const { ctx, chartArea: a } = chart;
      ctx.save();
      ctx.fillStyle = '#fff';
      ctx.fillRect(a.left, a.top, a.right - a.left, a.bottom - a.top);
      ctx.restore();
    },
    afterDatasetsDraw(chart: any) {
      const { ctx, chartArea: a } = chart;
      ctx.save();
      ctx.strokeStyle = color;
      ctx.lineWidth = 1;
      ctx.strokeRect(a.left + 0.5, a.top + 0.5, a.right - a.left - 1, a.bottom - a.top - 1);
      ctx.restore();
    },
  };
}

function titlePlugin(parts: string[]) {
  return {
    id: 'customTitle',
    afterDraw(chart: any) {
      const { ctx, chartArea: a } = chart;
      const fonts = [`20px ${FONT}`, `italic 20px ${FONT}`, `20px ${FONT}`];
      ctx.save();
      let total = 0;
      const widths = parts.map((p, i) => {
        ctx.font = fonts[i];
        const w = ctx.measureText(p).width;
        total += w;
        return w;
      });
      let x = (a.left + a.right) / 2 - total / 2;
      const y = a.top - 6;
      ctx.fillStyle = '#222';
      ctx.textAlign = 'left';
      ctx.textBaseline = 'alphabetic';
      parts.forEach((p, i) => {
        ctx.font = fonts[i];
        ctx.fillText(p, x, y);
        x += widths[i];
      });
      ctx.restore();
    },
  };
}

function legendPlugin(peak: number) {
  return {
    id: 'customLegend',
    afterDraw(chart: any) {
      const { ctx, chartArea: a } = chart;
      const x0 = a.left + 10.5, y0 = a.top + 9.5, w = 203, h = 51;
      ctx.save();
      ctx.beginPath();
      if ((ctx as any).roundRect) (ctx as any).roundRect(x0, y0, w, h, 3);
      else ctx.rect(x0, y0, w, h);
      ctx.fillStyle = 'rgba(255,255,255,0.8)';
      ctx.fill();
      ctx.strokeStyle = '#dcdcdc';
      ctx.lineWidth = 1;
      ctx.stroke();
      const r1 = a.top + 22, r2 = a.top + 45;
      ctx.beginPath();
      ctx.setLineDash([3, 2]);
      ctx.strokeStyle = '#222';
      ctx.lineWidth = 1.5;
      ctx.moveTo(a.left + 15, r1);
      ctx.lineTo(a.left + 48, r1);
      ctx.stroke();
      ctx.beginPath();
      ctx.setLineDash([]);
      ctx.strokeStyle = '#c8c8c8';
      ctx.lineWidth = 1;
      ctx.moveTo(a.left + 15, r2);
      ctx.lineTo(a.left + 48, r2);
      ctx.stroke();
      ctx.fillStyle = TEXT;
      ctx.font = `16px ${FONT}`;
      ctx.textAlign = 'left';
      ctx.textBaseline = 'middle';
      ctx.fillText(`Peak at ${peak.toFixed(1)} days`, a.left + 63, r1);
      ctx.fillText('5.0% FAP level', a.left + 63, r2);
      ctx.restore();
    },
  };
}

function makeMain(canvas: HTMLCanvasElement, i: number) {
  const peak = PEAK_PERIODS[i];
  const fap = FAP_LEVELS[i];
  const lim = DENSE_LIMITS[i];
  const title = [`1970_1999 - Lomb-Scargle Periodogram - ${STATIONS[i]} (`, 'δ', ` = ${DELTAS[i]} & 5-day EMA)`];
  const dense = PGRAMS[i].filter(([x]) => x <= lim).map(([x, y]) => ({ x, y }));
  const rest = PGRAMS[i].filter(([x]) => x >= lim).map(([x, y]) => ({ x, y }));
  return new Chart(canvas, {
    type: 'line',
    data: {
      datasets: [
        { data: dense, borderColor: '#000', borderWidth: 2.4, pointRadius: 0, tension: 0, order: 4 },
        { data: rest, borderColor: '#262626', borderWidth: 1.5, pointRadius: 0, tension: 0, order: 3 },
        { data: [{ x: peak, y: 0 }, { x: peak, y: 0.4 }], borderColor: '#222', borderDash: [3, 2], borderWidth: 1.5, pointRadius: 0, order: 1 },
        { data: [{ x: 0, y: fap }, { x: 730, y: fap }], borderColor: '#c8c8c8', borderWidth: 1, pointRadius: 0, order: 2 },
      ],
    } as any,
    options: {
      animation: false,
      responsive: false,
      events: [],
      layout: { padding: { left: 0, top: 28, right: 3, bottom: 0 } },
      plugins: { legend: { display: false }, tooltip: { enabled: false }, title: { display: false } },
      scales: {
        x: {
          type: 'linear', min: 0, max: 730,
          ticks: { stepSize: X_TICK_STEP, includeBounds: false, maxRotation: 0, padding: 3, color: TEXT, font: { family: FONT, size: 16 } },
          grid: { display: true, drawOnChartArea: false, drawTicks: true, tickLength: 4, color: '#bbb' },
          border: { display: false },
          title: { display: true, text: 'Period [days]', color: TEXT, font: { family: FONT, size: 16 }, padding: { top: 0, bottom: 16 } },
          afterFit: (s: any) => { s.height = 59; },
        },
        y: {
          type: 'linear', min: 0, max: 0.4,
          ticks: { stepSize: Y_TICK_STEP, includeBounds: false, padding: 3, color: TEXT, font: { family: FONT, size: 16 }, callback: (v: any) => Number(v).toFixed(2) },
          grid: { display: true, drawOnChartArea: false, drawTicks: true, tickLength: 4, color: '#bbb' },
          border: { display: false },
          title: { display: true, text: 'Power', color: TEXT, font: { family: FONT, size: 16 }, padding: { top: 9, bottom: 0 } },
          afterFit: (s: any) => { s.width = 70; },
        },
      },
    } as any,
    plugins: [framePlugin('#bdbdbd'), legendPlugin(peak), titlePlugin(title)] as any,
  });
}

function makeInset(canvas: HTMLCanvasElement, i: number) {
  const fit = FIT_PHASE.map((p, k) => ({ x: p, y: FITS[i][k] }));
  return new Chart(canvas, {
    type: 'scatter',
    data: {
      datasets: [
        { data: fit, showLine: true, borderColor: '#dd0000', borderWidth: 3.5, pointRadius: 0, tension: 0.4, order: 0 },
        { data: POINTS[i].map(([x, y]) => ({ x, y })), backgroundColor: '#000', borderWidth: 0, pointRadius: 1.7, order: 1 },
      ],
    } as any,
    options: {
      animation: false,
      responsive: false,
      events: [],
      layout: { padding: { left: 0, top: 18, right: 1, bottom: 0 } },
      plugins: { legend: { display: false }, tooltip: { enabled: false }, title: { display: false } },
      scales: {
        x: {
          type: 'linear', min: -0.05, max: 1.05,
          ticks: { stepSize: PHASE_TICK_STEP, includeBounds: false, maxRotation: 0, padding: 1, color: TEXT, font: { family: FONT, size: 15 }, callback: (v: any) => Number(v).toFixed(1) },
          grid: { display: true, drawOnChartArea: true, drawTicks: false, color: '#e3e3e3' },
          border: { display: false },
          title: { display: true, text: 'Phase', color: TEXT, font: { family: FONT, size: 16 }, padding: { top: 0, bottom: 3 } },
          afterFit: (s: any) => { s.height = 47; },
        },
        y: {
          type: 'linear', min: -10, max: 10,
          ticks: { stepSize: DL2_TICK_STEP, includeBounds: false, padding: 6, color: TEXT, font: { family: FONT, size: 15 }, callback: (v: any) => (Number(v) < 0 ? '\u2212' + Math.abs(Number(v)) : String(v)) },
          grid: { display: true, drawOnChartArea: true, drawTicks: false, color: '#e3e3e3' },
          border: { display: false },
          title: { display: true, text: 'dL2', color: TEXT, font: { family: FONT, size: 16 }, padding: { top: 24, bottom: 0 } },
          afterFit: (s: any) => { s.width = 78; },
        },
      },
    } as any,
    plugins: [framePlugin('#c4c4c4')] as any,
  });
}

export default function App() {
  const refs = useRef<(HTMLCanvasElement | null)[]>([]);
  useEffect(() => {
    const charts: Chart[] = [];
    for (let i = 0; i < 3; i++) {
      const m = refs.current[2 * i];
      const s = refs.current[2 * i + 1];
      if (m) charts.push(makeMain(m, i));
      if (s) charts.push(makeInset(s, i));
    }
    return () => charts.forEach((c) => c.destroy());
  }, []);
  return (
    <div style={{ position: 'absolute', left: 0, top: 0, width: 788, height: 1294, overflow: 'hidden', background: '#fff' }}>
      {[0, 1, 2].map((i) => (
        <React.Fragment key={i}>
          <canvas ref={(el) => { refs.current[2 * i] = el; }} width={800} height={PANEL_H}
            style={{ position: 'absolute', left: 0, top: PANEL_H * i, width: 800, height: PANEL_H }} />
          <canvas ref={(el) => { refs.current[2 * i + 1] = el; }} width={388} height={240}
            style={{ position: 'absolute', left: 400, top: PANEL_H * i + 20, width: 388, height: 240 }} />
        </React.Fragment>
      ))}
    </div>
  );
}
